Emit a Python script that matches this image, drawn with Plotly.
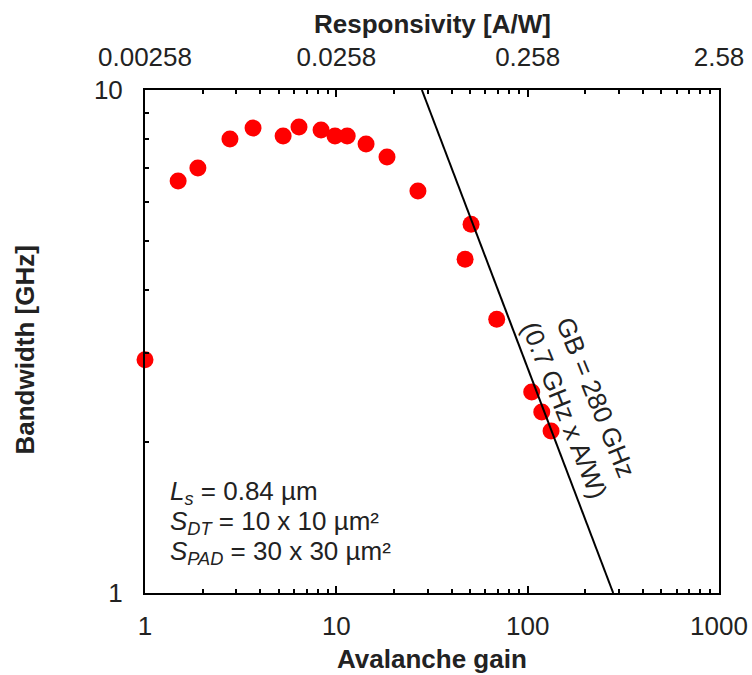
import plotly.graph_objects as go

# ---- data ----
gain = [1.0, 1.49, 1.89, 2.78, 3.67, 5.27, 6.38, 8.32, 9.84, 11.4, 14.3, 18.4,
        26.7, 50.6, 47.1, 68.9, 105, 118.5, 132.5]
bandwidth = [2.91, 6.59, 7.0, 7.99, 8.40, 8.10, 8.44, 8.33, 8.10, 8.10, 7.81, 7.36,
             6.30, 5.41, 4.61, 3.50, 2.51, 2.29, 2.10]

# GB = 280 GHz line end points (gain, bandwidth)
gb_line_gain = [28, 280]
gb_line_bw = [10, 1]

x_tickvals = [1, 10, 100, 1000]
x_ticktext = ["1", "10", "100", "1000"]
top_ticktext = ["0.00258", "0.0258", "0.258", "2.58"]
y_tickvals = [1, 10]
y_ticktext = ["1", "10"]
x_minor = [d * 10 ** e for e in range(3) for d in range(2, 10)]
y_minor = [2, 3, 4, 5, 6, 7, 8, 9]

FONT = "Liberation Sans, Arial, sans-serif"
TXT = "#222222"
FS = 26

fig = go.Figure()
fig.add_trace(go.Scatter(
    x=gb_line_gain, y=gb_line_bw, mode="lines", xaxis="x2", yaxis="y",
    line=dict(color="black", width=2), hoverinfo="skip", showlegend=False))
fig.add_trace(go.Scatter(
    x=gain, y=bandwidth, mode="markers",
    marker=dict(color="#FF0000", size=17, line=dict(width=0)),
    cliponaxis=False, showlegend=False))

axis_common = dict(
    type="log", showgrid=False, zeroline=False, showline=True, automargin=False,
    linecolor="black", linewidth=2, ticks="inside", ticklen=7, tickwidth=2,
    tickcolor="black", tickfont=dict(family=FONT, size=FS, color=TXT),
)

fig.update_layout(
    width=752, height=675,
    margin=dict(l=145, r=33, t=90, b=82, autoexpand=False),
    plot_bgcolor="white", paper_bgcolor="white",
    font=dict(family=FONT, size=FS, color=TXT),
    xaxis=dict(**axis_common, range=[0, 3], tickvals=x_tickvals, ticktext=x_ticktext,
               minor=dict(tickvals=x_minor, ticks="inside", ticklen=4, tickwidth=2,
                          tickcolor="black"),
               ticklabelstandoff=9, anchor="y", side="bottom"),
    xaxis2=dict(**axis_common, range=[0, 3], tickvals=x_tickvals, ticktext=top_ticktext,
                minor=dict(tickvals=x_minor, ticks="inside", ticklen=4, tickwidth=2,
                           tickcolor="black"),
                ticklabelstandoff=12, overlaying="x", side="top", anchor="y"),
    yaxis=dict(**axis_common, range=[0, 1], tickvals=y_tickvals, ticktext=y_ticktext,
               minor=dict(tickvals=y_minor, ticks="inside", ticklen=4, tickwidth=2,
                          tickcolor="black"),
               ticklabelstandoff=15, mirror=True),
)

ann = [
    dict(text="<b>Avalanche gain</b>", xref="paper", yref="paper", x=0.5, y=0,
         xanchor="center", yanchor="middle", yshift=-66, showarrow=False),
    dict(text="<b>Responsivity [A/W]</b>", xref="paper", yref="paper", x=0.5, y=1,
         xanchor="center", yanchor="middle", yshift=66, showarrow=False),
    dict(text="<b>Bandwidth [GHz]</b>", xref="paper", yref="paper", x=0, y=0.5,
         xanchor="center", yanchor="middle", xshift=-121, yshift=-9,
         textangle=-90, showarrow=False),
    dict(text="<i>L<sub>s</sub></i> = 0.84 µm", xref="paper", yref="paper", x=0, y=0,
         xanchor="left", yanchor="middle", xshift=23, yshift=101, showarrow=False),
    dict(text="<i>S<sub>DT</sub></i> = 10 x 10 µm²", xref="paper", yref="paper", x=0, y=0,
         xanchor="left", yanchor="middle", xshift=23, yshift=71, showarrow=False),
    dict(text="<i>S<sub>PAD</sub></i> = 30 x 30 µm²", xref="paper", yref="paper", x=0, y=0,
         xanchor="left", yanchor="middle", xshift=23, yshift=41, showarrow=False),
    dict(text="GB = 280 GHz<br>(0.7 GHz x A/W)", xref="x", yref="y",
         x=2.274, y=0.3757, xanchor="center", yanchor="middle",
         textangle=68, showarrow=False, align="center"),
]
fig.update_layout(annotations=ann)

fig.write_html("out.html")
